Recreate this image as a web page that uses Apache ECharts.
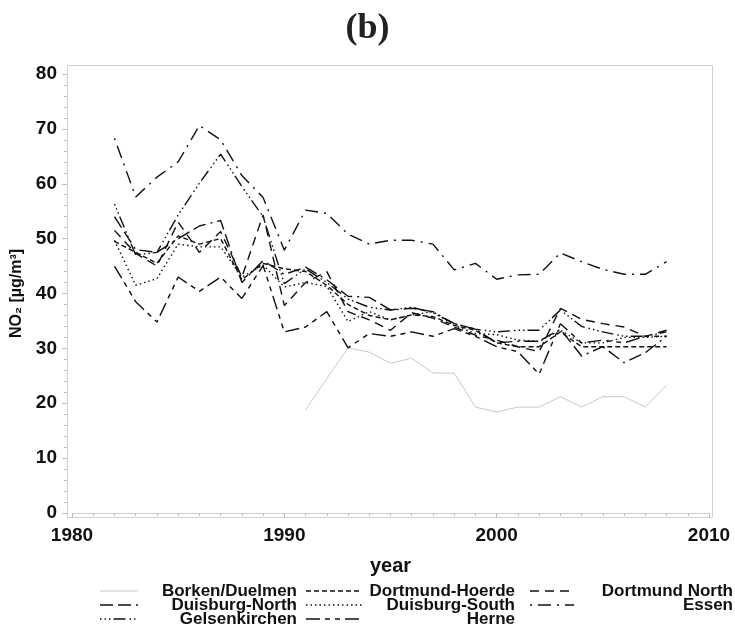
<!DOCTYPE html>
<html>
<head>
<meta charset="utf-8">
<script src="https://cdn.jsdelivr.net/npm/echarts@6/dist/echarts.min.js"></script>
<style>
html,body{margin:0;padding:0;background:#fff}
#main{width:735px;height:629px}
</style>
</head>
<body>
<div id="main"></div>
<script>
// NO2 annual means (b)
var years = [1982,1983,1984,1985,1986,1987,1988,1989,1990,1991,1992,1993,1994,1995,1996,1997,1998,1999,2000,2001,2002,2003,2004,2005,2006,2007,2008];
var xTicks = [1980, 1990, 2000, 2010];
var yTicks = [0, 10, 20, 30, 40, 50, 60, 70, 80];

var borkenDuelmen  = [null,null,null,null,null,null,null,null,null,18.8,24.5,30.1,29.3,27.3,28.2,25.5,25.5,19.3,18.4,19.3,19.3,21.2,19.3,21.2,21.2,19.3,23.3];
var dortmundHoerde = [49.5,47.5,45.5,50.5,49.0,50.0,42.5,45.5,44.5,44.0,41.5,38.0,36.0,35.2,36.1,35.8,34.2,33.3,31.0,30.3,30.3,33.0,30.3,30.3,30.3,30.3,30.3];
var dortmundNorth  = [51.5,47.3,45.0,53.0,47.5,51.3,43.0,54.3,37.8,42.0,44.0,36.7,35.2,33.3,36.5,35.5,33.9,32.4,31.5,30.3,29.4,37.3,35.3,34.5,33.9,32.2,33.3];
var duisburgNorth  = [54.0,48.0,47.5,50.0,52.3,53.3,42.0,46.0,43.5,44.8,42.5,39.5,39.3,37.0,37.3,36.7,34.5,33.5,31.0,31.3,31.3,33.5,28.6,30.3,27.4,29.2,32.2];
var duisburgSouth  = [49.7,41.5,42.7,49.0,48.5,48.5,43.0,45.2,41.2,42.0,41.3,34.9,36.7,35.2,36.1,36.7,34.2,32.7,32.5,31.5,31.3,33.3,31.0,31.0,32.0,32.0,32.2];
var essen          = [68.3,57.6,61.2,64.0,70.6,68.0,61.5,57.5,47.9,55.2,54.6,50.8,49.0,49.7,49.7,49.0,44.3,45.5,42.6,43.4,43.5,47.4,45.8,44.4,43.5,43.5,45.8];
var gelsenkirchen  = [56.3,47.0,47.5,54.3,60.1,65.4,59.5,54.0,41.8,44.5,42.0,39.0,37.5,37.0,37.5,36.5,34.5,33.5,33.0,33.3,33.3,37.0,34.0,33.0,32.2,32.2,33.0];
var herne          = [45.0,38.5,34.8,43.0,40.4,43.0,39.1,45.1,33.0,33.9,36.7,30.1,32.7,32.2,33.0,32.2,33.6,32.2,30.3,29.4,25.3,34.5,31.0,31.5,31.0,32.2,32.2];

var names = ['Borken/Duelmen','Dortmund-Hoerde','Dortmund North','Duisburg-North','Duisburg-South','Essen','Gelsenkirchen','Herne'];
var values = [borkenDuelmen, dortmundHoerde, dortmundNorth, duisburgNorth, duisburgSouth, essen, gelsenkirchen, herne];

// line looks
var looks = [
  {color:'#c8c8c8', width:1,   dash:'solid'},
  {color:'#111',    width:1.4, dash:[5,3]},
  {color:'#111',    width:1.4, dash:[9,6]},
  {color:'#111',    width:1.4, dash:[13,5,13,5,2,5]},
  {color:'#111',    width:1.4, dash:[1.5,3]},
  {color:'#111',    width:1.4, dash:[2,6,13,6]},
  {color:'#111',    width:1.4, dash:[1.5,3,1.5,3,1.5,3,12,4]},
  {color:'#111',    width:1.4, dash:[14,5,5,5,5,5]}
];

var series = names.map(function(n, i){
  return {
    name: n,
    type: 'line',
    showSymbol: false,
    connectNulls: false,
    animation: false,
    lineStyle: {color: looks[i].color, width: looks[i].width, type: looks[i].dash},
    data: years.map(function(y, k){ return [y, values[i][k]]; })
  };
});

// hand-made legend: three columns, right aligned text
var cols = [{x0:100, x1:138, tx:297}, {x0:306, x1:362, tx:515}, {x0:530, x1:574, tx:733}];
var rows = [591, 605, 619];
var legendEls = [];
names.forEach(function(n, i){
  var c = cols[i % 3], r = rows[Math.floor(i / 3)];
  legendEls.push({
    type:'line', shape:{x1:c.x0, y1:r, x2:c.x1, y2:r},
    style:{stroke:looks[i].color, lineWidth:looks[i].width, lineDash: looks[i].dash === 'solid' ? null : looks[i].dash}
  });
  legendEls.push({
    type:'text', x:c.tx, y:r,
    style:{text:n, align:'right', verticalAlign:'middle', fill:'#111',
      font:'bold 17px "Liberation Sans", Arial, sans-serif'}
  });
});

var chart = echarts.init(document.getElementById('main'));
var lab = {fontSize:19, fontWeight:'bold', color:'#111', fontFamily:'"Liberation Sans", Arial, sans-serif'};

var option = {
  animation: false,
  title: {
    text: '(b)', left: 'center', top: 6,
    textStyle: {fontSize: 36, fontWeight: 'bold', color: '#222', fontFamily: '"Liberation Serif", "Times New Roman", serif'}
  },
  grid: {left: 72, right: 26, top: 74, bottom: 116},
  xAxis: {
    type: 'value', min: xTicks[0], max: xTicks[xTicks.length - 1], interval: 10, offset: 5,
    name: 'year', nameLocation: 'middle', nameGap: 38,
    nameTextStyle: {fontSize: 20, fontWeight: 'bold', color: '#111', fontFamily: '"Liberation Sans", Arial, sans-serif'},
    axisLine: {show: true, lineStyle: {color: '#cfcfcf'}},
    axisTick: {show: true, length: 5, lineStyle: {color: '#bdbdbd'}},
    minorTick: {show: true, splitNumber: 10, length: 3, lineStyle: {color: '#bdbdbd'}},
    splitLine: {show: false},
    axisLabel: Object.assign({margin: 8, formatter: function(v){ return String(v); }}, lab)
  },
  yAxis: {
    type: 'value', min: yTicks[0], max: yTicks[yTicks.length - 1], interval: 10, offset: 5,
    name: 'NO\u2082 [\u00b5g/m\u00b3]', nameLocation: 'middle', nameGap: 38, nameRotate: 90,
    nameTextStyle: {fontSize: 16, fontWeight: 'bold', color: '#111', fontFamily: '"Liberation Sans", Arial, sans-serif'},
    axisLine: {show: true, lineStyle: {color: '#cfcfcf'}},
    axisTick: {show: true, length: 5, lineStyle: {color: '#bdbdbd'}},
    minorTick: {show: true, splitNumber: 5, length: 3, lineStyle: {color: '#bdbdbd'}},
    splitLine: {show: false},
    axisLabel: Object.assign({margin: 10}, lab)
  },
  graphic: [
    {type: 'rect', z: -1, shape: {x: 67.5, y: 65.5, width: 645, height: 452},
     style: {fill: 'none', stroke: '#d0d0d0', lineWidth: 1}, silent: true}
  ].concat(legendEls),
  series: series
};
chart.setOption(option);
</script>
</body>
</html>
